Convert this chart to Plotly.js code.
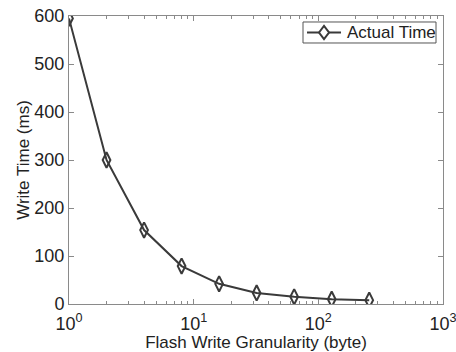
<!DOCTYPE html>
<html>
<head>
<meta charset="utf-8">
<script src="https://cdn.plot.ly/plotly-3.0.1.min.js"></script>
<style>
  html, body { margin: 0; padding: 0; background: #fff; }
  #chart { width: 456px; height: 352px; }
</style>
</head>
<body>
<div id="chart"></div>
<script>
// Write granularity in bytes and measured write time in ms
const granularity = [1, 2, 4, 8, 16, 32, 64, 128, 256];
const writeTime = [595, 300, 154, 79, 42, 23, 15, 10, 8];
const seriesName = 'Actual Time';

const xTickVals = [1, 10, 100, 1000];
const xTickText = ['10<sup>0</sup>', '10<sup>1</sup>', '10<sup>2</sup>', '10<sup>3</sup>'];
const yTickVals = [0, 100, 200, 300, 400, 500, 600];

// minor ticks at 2..9 of every decade
const xMinorVals = [];
for (const decade of [1, 10, 100]) {
  for (let m = 2; m <= 9; m++) xMinorVals.push(m * decade);
}

const fontFamily = 'Liberation Sans, Arial, Helvetica, sans-serif';
const axisColor = '#8a8a8a';
const textColor = '#222';
const lineColor = '#3a3a3a';

const trace = {
  x: granularity,
  y: writeTime,
  type: 'scatter',
  mode: 'lines+markers',
  name: seriesName,
  showlegend: false,
  line: { color: lineColor, width: 2 },
  marker: { symbol: 'diamond-tall-open', size: 11, color: lineColor, line: { width: 2, color: lineColor } }
};

// boxed legend in the upper-right corner (paper coordinates)
const legBox = { x0: 0.6257, x1: 0.9813, y0: 0.9063, y1: 0.9792 };
const legY = (legBox.y0 + legBox.y1) / 2;
const legLine = { x0: 0.6364, x1: 0.7273 };
const legMarkX = (legLine.x0 + legLine.x1) / 2;
const dx = 0.0134, dy = 0.0226;

const layout = {
  width: 456,
  height: 352,
  margin: { l: 69, r: 13, t: 16, b: 48 },
  paper_bgcolor: '#fff',
  plot_bgcolor: '#fff',
  font: { family: fontFamily, size: 17, color: textColor },
  showlegend: false,
  xaxis: {
    type: 'log',
    range: [0, 3],
    tickmode: 'array',
    tickvals: xTickVals,
    ticktext: xTickText,
    ticks: 'inside', ticklen: 5, tickcolor: axisColor,
    ticklabeloverflow: 'allow',
    ticklabelstandoff: 3,
    showline: true, linecolor: axisColor, linewidth: 1, mirror: 'ticks',
    showgrid: false, zeroline: false,
    minor: { tickmode: 'array', tickvals: xMinorVals, ticks: 'inside', ticklen: 3, tickcolor: axisColor, showgrid: false },
    tickfont: { family: fontFamily, size: 18, color: textColor },
    title: { text: 'Flash Write Granularity (byte)', font: { family: fontFamily, size: 17, color: textColor }, standoff: 2 }
  },
  yaxis: {
    range: [0, 600],
    tickmode: 'array',
    tickvals: yTickVals,
    ticks: 'inside', ticklen: 5, tickcolor: axisColor,
    ticklabeloverflow: 'allow',
    showline: true, linecolor: axisColor, linewidth: 1, mirror: 'ticks',
    showgrid: false, zeroline: false,
    tickfont: { family: fontFamily, size: 18, color: textColor },
    title: { text: 'Write Time (ms)', font: { family: fontFamily, size: 17, color: textColor }, standoff: 0 }
  },
  shapes: [
    { type: 'rect', xref: 'paper', yref: 'paper', x0: legBox.x0, x1: legBox.x1, y0: legBox.y0, y1: legBox.y1,
      line: { color: '#555', width: 1 }, fillcolor: '#fff' },
    { type: 'line', xref: 'paper', yref: 'paper', x0: legLine.x0, x1: legLine.x1, y0: legY, y1: legY,
      line: { color: lineColor, width: 2 } },
    { type: 'path', xref: 'paper', yref: 'paper',
      path: `M ${legMarkX - dx} ${legY} L ${legMarkX} ${legY + dy} L ${legMarkX + dx} ${legY} L ${legMarkX} ${legY - dy} Z`,
      line: { color: lineColor, width: 2 }, fillcolor: '#fff' }
  ],
  annotations: [
    { xref: 'paper', yref: 'paper', x: 0.738, y: legY, xanchor: 'left', yanchor: 'middle',
      text: seriesName, showarrow: false, font: { family: fontFamily, size: 17, color: textColor } }
  ]
};

Plotly.newPlot('chart', [trace], layout, { displayModeBar: false, staticPlot: true });
</script>
</body>
</html>
